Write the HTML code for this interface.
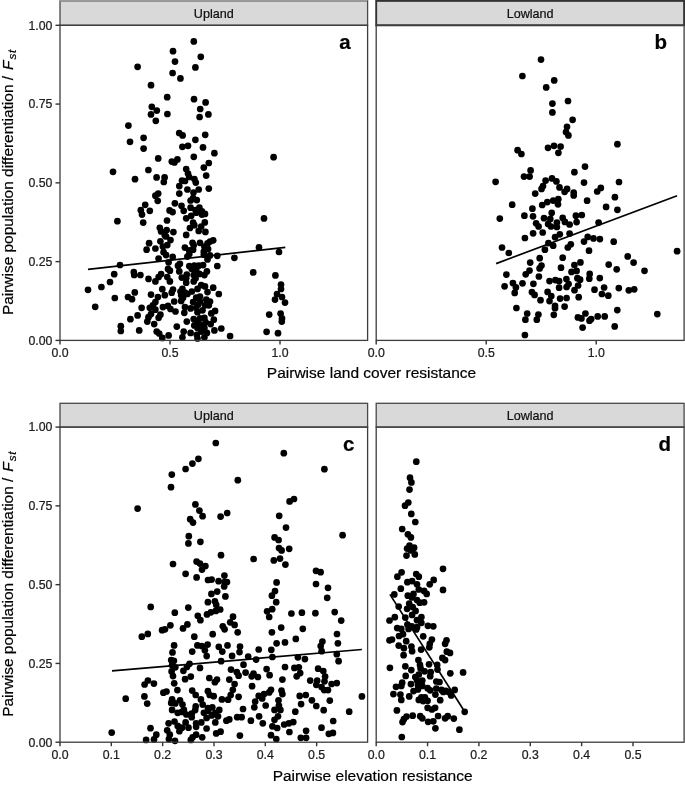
<!DOCTYPE html>
<html><head><meta charset="utf-8"><title>Figure</title>
<style>html,body{margin:0;padding:0;background:#fff;}svg{display:block;will-change:transform;}text{font-family:"Liberation Sans",sans-serif;stroke:#000;stroke-width:0.2px;}</style>
</head><body>
<svg width="685" height="785" viewBox="0 0 685 785">
<rect x="0" y="0" width="685" height="785" fill="#ffffff"/>
<rect x="60.0" y="0.9" width="307.6" height="24.4" fill="#d9d9d9" stroke="#484848" stroke-width="1.3"/>
<text x="213.8" y="18.0" font-size="12.6" text-anchor="middle" fill="#111111">Upland</text>
<rect x="376.2" y="0.9" width="307.9" height="24.4" fill="#d9d9d9" stroke="#333333" stroke-width="1.9"/>
<text x="530.1" y="18.0" font-size="12.6" text-anchor="middle" fill="#111111">Lowland</text>
<line x1="59.3" y1="0.9" x2="367.0" y2="0.9" stroke="#9a9a9a" stroke-width="1.8"/>
<g fill="#000000"><circle cx="193.8" cy="41.4" r="3.35"/><circle cx="173.0" cy="51.2" r="3.35"/><circle cx="200.8" cy="56.8" r="3.35"/><circle cx="175.0" cy="61.6" r="3.35"/><circle cx="137.6" cy="66.8" r="3.35"/><circle cx="195.4" cy="67.4" r="3.35"/><circle cx="172.6" cy="73.0" r="3.35"/><circle cx="180.4" cy="78.4" r="3.35"/><circle cx="151.0" cy="85.2" r="3.35"/><circle cx="167.2" cy="97.2" r="3.35"/><circle cx="194.0" cy="99.2" r="3.35"/><circle cx="205.6" cy="102.4" r="3.35"/><circle cx="151.8" cy="106.8" r="3.35"/><circle cx="156.8" cy="110.6" r="3.35"/><circle cx="200.2" cy="109.0" r="3.35"/><circle cx="151.0" cy="114.4" r="3.35"/><circle cx="167.4" cy="114.0" r="3.35"/><circle cx="208.4" cy="114.4" r="3.35"/><circle cx="199.6" cy="117.0" r="3.35"/><circle cx="155.8" cy="120.8" r="3.35"/><circle cx="128.4" cy="125.6" r="3.35"/><circle cx="179.2" cy="133.0" r="3.35"/><circle cx="182.6" cy="135.4" r="3.35"/><circle cx="205.2" cy="134.8" r="3.35"/><circle cx="143.6" cy="137.8" r="3.35"/><circle cx="195.4" cy="139.8" r="3.35"/><circle cx="130.0" cy="141.8" r="3.35"/><circle cx="143.6" cy="148.6" r="3.35"/><circle cx="182.4" cy="146.8" r="3.35"/><circle cx="188.0" cy="145.8" r="3.35"/><circle cx="203.0" cy="147.4" r="3.35"/><circle cx="158.2" cy="158.4" r="3.35"/><circle cx="193.8" cy="156.8" r="3.35"/><circle cx="177.4" cy="159.4" r="3.35"/><circle cx="171.8" cy="161.6" r="3.35"/><circle cx="174.4" cy="162.4" r="3.35"/><circle cx="208.8" cy="163.0" r="3.35"/><circle cx="113.0" cy="171.8" r="3.35"/><circle cx="148.4" cy="170.0" r="3.35"/><circle cx="203.8" cy="167.6" r="3.35"/><circle cx="186.2" cy="169.0" r="3.35"/><circle cx="188.0" cy="173.6" r="3.35"/><circle cx="206.2" cy="175.6" r="3.35"/><circle cx="135.0" cy="179.2" r="3.35"/><circle cx="156.6" cy="177.4" r="3.35"/><circle cx="164.6" cy="177.4" r="3.35"/><circle cx="194.4" cy="179.0" r="3.35"/><circle cx="189.2" cy="177.0" r="3.35"/><circle cx="182.0" cy="180.6" r="3.35"/><circle cx="185.0" cy="181.0" r="3.35"/><circle cx="163.8" cy="182.0" r="3.35"/><circle cx="195.8" cy="182.6" r="3.35"/><circle cx="214.4" cy="153.2" r="3.35"/><circle cx="273.6" cy="157.2" r="3.35"/><circle cx="117.4" cy="221.2" r="3.35"/><circle cx="145.2" cy="204.8" r="3.35"/><circle cx="140.8" cy="210.2" r="3.35"/><circle cx="142.0" cy="214.6" r="3.35"/><circle cx="143.2" cy="222.6" r="3.35"/><circle cx="120.0" cy="265.0" r="3.35"/><circle cx="114.2" cy="274.2" r="3.35"/><circle cx="110.0" cy="282.0" r="3.35"/><circle cx="101.4" cy="287.0" r="3.35"/><circle cx="88.0" cy="289.8" r="3.35"/><circle cx="95.2" cy="306.8" r="3.35"/><circle cx="114.8" cy="298.0" r="3.35"/><circle cx="133.8" cy="272.0" r="3.35"/><circle cx="134.2" cy="275.0" r="3.35"/><circle cx="140.4" cy="275.0" r="3.35"/><circle cx="134.8" cy="292.4" r="3.35"/><circle cx="128.0" cy="297.0" r="3.35"/><circle cx="132.0" cy="299.2" r="3.35"/><circle cx="141.6" cy="307.8" r="3.35"/><circle cx="137.6" cy="315.4" r="3.35"/><circle cx="130.4" cy="319.2" r="3.35"/><circle cx="120.8" cy="326.2" r="3.35"/><circle cx="120.8" cy="331.0" r="3.35"/><circle cx="139.2" cy="330.4" r="3.35"/><circle cx="158.2" cy="193.6" r="3.35"/><circle cx="155.4" cy="195.7" r="3.35"/><circle cx="157.7" cy="200.8" r="3.35"/><circle cx="149.8" cy="210.8" r="3.35"/><circle cx="174.9" cy="203.3" r="3.35"/><circle cx="169.6" cy="210.4" r="3.35"/><circle cx="172.6" cy="212.1" r="3.35"/><circle cx="167.0" cy="220.5" r="3.35"/><circle cx="159.8" cy="227.8" r="3.35"/><circle cx="161.1" cy="231.5" r="3.35"/><circle cx="166.7" cy="230.0" r="3.35"/><circle cx="173.4" cy="232.1" r="3.35"/><circle cx="164.8" cy="235.3" r="3.35"/><circle cx="166.1" cy="236.5" r="3.35"/><circle cx="170.5" cy="240.1" r="3.35"/><circle cx="160.4" cy="241.3" r="3.35"/><circle cx="167.3" cy="245.1" r="3.35"/><circle cx="149.1" cy="243.2" r="3.35"/><circle cx="162.9" cy="246.6" r="3.35"/><circle cx="155.4" cy="248.5" r="3.35"/><circle cx="146.6" cy="249.7" r="3.35"/><circle cx="163.6" cy="252.2" r="3.35"/><circle cx="166.1" cy="255.1" r="3.35"/><circle cx="172.7" cy="256.9" r="3.35"/><circle cx="179.3" cy="186.1" r="3.35"/><circle cx="187.4" cy="189.5" r="3.35"/><circle cx="198.7" cy="189.5" r="3.35"/><circle cx="179.3" cy="193.6" r="3.35"/><circle cx="193.5" cy="192.6" r="3.35"/><circle cx="208.8" cy="188.6" r="3.35"/><circle cx="193.1" cy="198.2" r="3.35"/><circle cx="190.6" cy="200.5" r="3.35"/><circle cx="196.8" cy="200.1" r="3.35"/><circle cx="181.5" cy="205.8" r="3.35"/><circle cx="190.6" cy="207.7" r="3.35"/><circle cx="183.7" cy="210.8" r="3.35"/><circle cx="199.4" cy="207.7" r="3.35"/><circle cx="195.6" cy="210.2" r="3.35"/><circle cx="196.2" cy="212.7" r="3.35"/><circle cx="201.9" cy="211.4" r="3.35"/><circle cx="205.0" cy="213.9" r="3.35"/><circle cx="201.9" cy="214.6" r="3.35"/><circle cx="191.2" cy="215.8" r="3.35"/><circle cx="186.2" cy="218.3" r="3.35"/><circle cx="204.8" cy="222.4" r="3.35"/><circle cx="193.1" cy="222.7" r="3.35"/><circle cx="194.3" cy="225.2" r="3.35"/><circle cx="201.2" cy="226.5" r="3.35"/><circle cx="189.9" cy="228.0" r="3.35"/><circle cx="198.7" cy="230.9" r="3.35"/><circle cx="205.4" cy="231.9" r="3.35"/><circle cx="186.2" cy="234.9" r="3.35"/><circle cx="213.2" cy="240.3" r="3.35"/><circle cx="210.0" cy="241.6" r="3.35"/><circle cx="207.5" cy="243.4" r="3.35"/><circle cx="192.5" cy="242.8" r="3.35"/><circle cx="200.0" cy="242.8" r="3.35"/><circle cx="193.7" cy="245.3" r="3.35"/><circle cx="184.9" cy="247.6" r="3.35"/><circle cx="189.3" cy="250.4" r="3.35"/><circle cx="193.1" cy="249.7" r="3.35"/><circle cx="204.4" cy="246.6" r="3.35"/><circle cx="208.1" cy="249.1" r="3.35"/><circle cx="203.8" cy="251.6" r="3.35"/><circle cx="203.8" cy="254.7" r="3.35"/><circle cx="189.3" cy="254.1" r="3.35"/><circle cx="187.4" cy="256.6" r="3.35"/><circle cx="210.0" cy="255.4" r="3.35"/><circle cx="217.3" cy="255.8" r="3.35"/><circle cx="158.6" cy="258.6" r="3.35"/><circle cx="168.6" cy="262.3" r="3.35"/><circle cx="207.5" cy="259.4" r="3.35"/><circle cx="179.9" cy="263.8" r="3.35"/><circle cx="178.0" cy="265.7" r="3.35"/><circle cx="217.3" cy="266.0" r="3.35"/><circle cx="189.3" cy="266.1" r="3.35"/><circle cx="194.3" cy="265.7" r="3.35"/><circle cx="198.7" cy="265.7" r="3.35"/><circle cx="203.1" cy="265.1" r="3.35"/><circle cx="168.0" cy="268.9" r="3.35"/><circle cx="169.9" cy="270.7" r="3.35"/><circle cx="179.3" cy="271.4" r="3.35"/><circle cx="191.8" cy="268.9" r="3.35"/><circle cx="196.2" cy="270.1" r="3.35"/><circle cx="206.9" cy="271.4" r="3.35"/><circle cx="161.1" cy="274.1" r="3.35"/><circle cx="186.8" cy="274.5" r="3.35"/><circle cx="193.7" cy="275.1" r="3.35"/><circle cx="199.4" cy="273.9" r="3.35"/><circle cx="204.4" cy="275.1" r="3.35"/><circle cx="158.6" cy="277.0" r="3.35"/><circle cx="148.5" cy="278.9" r="3.35"/><circle cx="167.3" cy="277.0" r="3.35"/><circle cx="181.8" cy="277.6" r="3.35"/><circle cx="186.2" cy="278.3" r="3.35"/><circle cx="195.6" cy="278.3" r="3.35"/><circle cx="155.4" cy="281.4" r="3.35"/><circle cx="169.9" cy="281.4" r="3.35"/><circle cx="193.7" cy="281.4" r="3.35"/><circle cx="186.2" cy="282.7" r="3.35"/><circle cx="201.2" cy="285.2" r="3.35"/><circle cx="205.0" cy="286.4" r="3.35"/><circle cx="213.2" cy="287.7" r="3.35"/><circle cx="162.3" cy="289.2" r="3.35"/><circle cx="173.0" cy="289.6" r="3.35"/><circle cx="182.4" cy="288.9" r="3.35"/><circle cx="197.5" cy="288.9" r="3.35"/><circle cx="171.7" cy="292.7" r="3.35"/><circle cx="180.5" cy="291.5" r="3.35"/><circle cx="184.9" cy="292.7" r="3.35"/><circle cx="191.8" cy="291.5" r="3.35"/><circle cx="207.5" cy="292.1" r="3.35"/><circle cx="218.8" cy="294.0" r="3.35"/><circle cx="151.0" cy="294.6" r="3.35"/><circle cx="164.8" cy="295.2" r="3.35"/><circle cx="157.9" cy="297.1" r="3.35"/><circle cx="181.2" cy="295.2" r="3.35"/><circle cx="187.4" cy="294.0" r="3.35"/><circle cx="200.0" cy="296.5" r="3.35"/><circle cx="183.0" cy="297.7" r="3.35"/><circle cx="196.2" cy="297.7" r="3.35"/><circle cx="206.3" cy="299.6" r="3.35"/><circle cx="174.2" cy="301.5" r="3.35"/><circle cx="155.4" cy="302.1" r="3.35"/><circle cx="181.2" cy="300.9" r="3.35"/><circle cx="193.1" cy="302.1" r="3.35"/><circle cx="200.0" cy="301.5" r="3.35"/><circle cx="210.0" cy="301.5" r="3.35"/><circle cx="152.9" cy="305.3" r="3.35"/><circle cx="198.1" cy="304.6" r="3.35"/><circle cx="205.0" cy="305.3" r="3.35"/><circle cx="162.9" cy="307.1" r="3.35"/><circle cx="168.0" cy="305.9" r="3.35"/><circle cx="149.8" cy="307.8" r="3.35"/><circle cx="184.9" cy="307.1" r="3.35"/><circle cx="190.6" cy="308.4" r="3.35"/><circle cx="196.2" cy="307.8" r="3.35"/><circle cx="208.8" cy="305.3" r="3.35"/><circle cx="170.5" cy="309.0" r="3.35"/><circle cx="155.4" cy="309.7" r="3.35"/><circle cx="175.5" cy="311.5" r="3.35"/><circle cx="202.5" cy="310.3" r="3.35"/><circle cx="215.1" cy="310.9" r="3.35"/><circle cx="184.3" cy="312.8" r="3.35"/><circle cx="197.5" cy="312.2" r="3.35"/><circle cx="211.3" cy="313.4" r="3.35"/><circle cx="151.0" cy="314.1" r="3.35"/><circle cx="160.4" cy="314.7" r="3.35"/><circle cx="158.6" cy="317.8" r="3.35"/><circle cx="148.5" cy="317.2" r="3.35"/><circle cx="193.7" cy="319.1" r="3.35"/><circle cx="200.0" cy="318.4" r="3.35"/><circle cx="204.4" cy="317.8" r="3.35"/><circle cx="213.8" cy="319.7" r="3.35"/><circle cx="147.3" cy="321.6" r="3.35"/><circle cx="186.8" cy="321.6" r="3.35"/><circle cx="198.1" cy="322.2" r="3.35"/><circle cx="205.6" cy="322.2" r="3.35"/><circle cx="154.2" cy="324.1" r="3.35"/><circle cx="194.3" cy="325.4" r="3.35"/><circle cx="201.2" cy="325.4" r="3.35"/><circle cx="210.7" cy="324.1" r="3.35"/><circle cx="176.8" cy="326.6" r="3.35"/><circle cx="197.5" cy="327.9" r="3.35"/><circle cx="204.4" cy="327.9" r="3.35"/><circle cx="214.4" cy="330.4" r="3.35"/><circle cx="221.3" cy="328.5" r="3.35"/><circle cx="156.7" cy="331.6" r="3.35"/><circle cx="183.7" cy="331.6" r="3.35"/><circle cx="190.6" cy="332.9" r="3.35"/><circle cx="201.2" cy="331.6" r="3.35"/><circle cx="206.9" cy="332.9" r="3.35"/><circle cx="159.2" cy="333.5" r="3.35"/><circle cx="196.8" cy="334.8" r="3.35"/><circle cx="168.6" cy="335.4" r="3.35"/><circle cx="230.1" cy="336.0" r="3.35"/><circle cx="182.4" cy="337.3" r="3.35"/><circle cx="204.4" cy="337.3" r="3.35"/><circle cx="162.3" cy="337.9" r="3.35"/><circle cx="197.5" cy="338.5" r="3.35"/><circle cx="264.0" cy="218.4" r="3.35"/><circle cx="259.0" cy="247.4" r="3.35"/><circle cx="234.4" cy="257.8" r="3.35"/><circle cx="279.0" cy="252.0" r="3.35"/><circle cx="253.2" cy="272.4" r="3.35"/><circle cx="275.4" cy="275.4" r="3.35"/><circle cx="281.0" cy="284.6" r="3.35"/><circle cx="281.0" cy="289.0" r="3.35"/><circle cx="277.0" cy="294.0" r="3.35"/><circle cx="282.0" cy="297.0" r="3.35"/><circle cx="275.0" cy="299.6" r="3.35"/><circle cx="285.0" cy="302.6" r="3.35"/><circle cx="269.2" cy="314.6" r="3.35"/><circle cx="280.6" cy="313.6" r="3.35"/><circle cx="282.0" cy="318.4" r="3.35"/><circle cx="281.8" cy="321.6" r="3.35"/><circle cx="266.6" cy="331.8" r="3.35"/><circle cx="278.0" cy="333.2" r="3.35"/></g>
<g fill="#000000"><circle cx="541.0" cy="59.6" r="3.35"/><circle cx="522.4" cy="76.0" r="3.35"/><circle cx="554.2" cy="80.4" r="3.35"/><circle cx="546.2" cy="87.4" r="3.35"/><circle cx="568.0" cy="101.0" r="3.35"/><circle cx="552.4" cy="103.6" r="3.35"/><circle cx="552.4" cy="112.4" r="3.35"/><circle cx="572.6" cy="119.8" r="3.35"/><circle cx="567.0" cy="126.8" r="3.35"/><circle cx="566.0" cy="132.0" r="3.35"/><circle cx="568.4" cy="135.4" r="3.35"/><circle cx="554.0" cy="145.8" r="3.35"/><circle cx="560.6" cy="146.6" r="3.35"/><circle cx="548.0" cy="147.8" r="3.35"/><circle cx="558.4" cy="152.8" r="3.35"/><circle cx="517.6" cy="150.2" r="3.35"/><circle cx="521.4" cy="154.0" r="3.35"/><circle cx="585.0" cy="166.6" r="3.35"/><circle cx="530.6" cy="170.4" r="3.35"/><circle cx="574.4" cy="172.2" r="3.35"/><circle cx="524.0" cy="176.6" r="3.35"/><circle cx="529.6" cy="176.6" r="3.35"/><circle cx="495.6" cy="181.8" r="3.35"/><circle cx="545.6" cy="180.6" r="3.35"/><circle cx="552.0" cy="178.4" r="3.35"/><circle cx="556.4" cy="181.4" r="3.35"/><circle cx="584.0" cy="182.6" r="3.35"/><circle cx="617.4" cy="144.2" r="3.35"/><circle cx="619.0" cy="182.0" r="3.35"/><circle cx="543.0" cy="186.0" r="3.35"/><circle cx="541.5" cy="188.9" r="3.35"/><circle cx="559.5" cy="187.4" r="3.35"/><circle cx="567.1" cy="188.9" r="3.35"/><circle cx="564.6" cy="191.8" r="3.35"/><circle cx="573.7" cy="192.6" r="3.35"/><circle cx="573.7" cy="195.5" r="3.35"/><circle cx="535.2" cy="193.6" r="3.35"/><circle cx="558.3" cy="199.2" r="3.35"/><circle cx="553.2" cy="200.6" r="3.35"/><circle cx="547.3" cy="202.1" r="3.35"/><circle cx="542.2" cy="205.0" r="3.35"/><circle cx="558.0" cy="204.3" r="3.35"/><circle cx="512.2" cy="204.7" r="3.35"/><circle cx="532.4" cy="208.7" r="3.35"/><circle cx="551.7" cy="212.8" r="3.35"/><circle cx="524.4" cy="215.7" r="3.35"/><circle cx="533.0" cy="216.3" r="3.35"/><circle cx="544.0" cy="218.2" r="3.35"/><circle cx="550.3" cy="218.9" r="3.35"/><circle cx="562.7" cy="217.9" r="3.35"/><circle cx="575.9" cy="215.7" r="3.35"/><circle cx="499.8" cy="218.6" r="3.35"/><circle cx="556.9" cy="222.6" r="3.35"/><circle cx="564.9" cy="221.9" r="3.35"/><circle cx="569.6" cy="224.5" r="3.35"/><circle cx="576.6" cy="222.1" r="3.35"/><circle cx="536.1" cy="223.3" r="3.35"/><circle cx="538.6" cy="226.5" r="3.35"/><circle cx="548.1" cy="224.0" r="3.35"/><circle cx="551.0" cy="226.5" r="3.35"/><circle cx="556.9" cy="227.0" r="3.35"/><circle cx="533.1" cy="233.3" r="3.35"/><circle cx="542.7" cy="232.5" r="3.35"/><circle cx="559.8" cy="234.3" r="3.35"/><circle cx="569.6" cy="233.6" r="3.35"/><circle cx="555.1" cy="237.2" r="3.35"/><circle cx="524.9" cy="238.0" r="3.35"/><circle cx="548.4" cy="243.1" r="3.35"/><circle cx="553.2" cy="245.7" r="3.35"/><circle cx="570.8" cy="244.3" r="3.35"/><circle cx="567.8" cy="247.5" r="3.35"/><circle cx="502.0" cy="247.5" r="3.35"/><circle cx="544.9" cy="249.7" r="3.35"/><circle cx="508.8" cy="253.0" r="3.35"/><circle cx="562.7" cy="257.7" r="3.35"/><circle cx="539.7" cy="258.2" r="3.35"/><circle cx="530.2" cy="262.6" r="3.35"/><circle cx="541.5" cy="265.5" r="3.35"/><circle cx="539.6" cy="268.4" r="3.35"/><circle cx="574.4" cy="265.0" r="3.35"/><circle cx="561.0" cy="267.7" r="3.35"/><circle cx="529.5" cy="270.6" r="3.35"/><circle cx="525.7" cy="274.3" r="3.35"/><circle cx="571.5" cy="271.9" r="3.35"/><circle cx="576.6" cy="270.9" r="3.35"/><circle cx="506.4" cy="274.6" r="3.35"/><circle cx="538.9" cy="276.5" r="3.35"/><circle cx="549.5" cy="281.1" r="3.35"/><circle cx="555.4" cy="280.1" r="3.35"/><circle cx="559.1" cy="281.1" r="3.35"/><circle cx="566.4" cy="279.0" r="3.35"/><circle cx="512.9" cy="283.1" r="3.35"/><circle cx="522.5" cy="283.3" r="3.35"/><circle cx="533.4" cy="283.8" r="3.35"/><circle cx="568.6" cy="284.1" r="3.35"/><circle cx="504.6" cy="286.3" r="3.35"/><circle cx="515.9" cy="287.4" r="3.35"/><circle cx="559.1" cy="287.7" r="3.35"/><circle cx="577.4" cy="278.2" r="3.35"/><circle cx="578.1" cy="285.5" r="3.35"/><circle cx="600.8" cy="187.9" r="3.35"/><circle cx="597.2" cy="191.5" r="3.35"/><circle cx="614.9" cy="197.2" r="3.35"/><circle cx="587.1" cy="200.7" r="3.35"/><circle cx="606.1" cy="206.9" r="3.35"/><circle cx="617.4" cy="209.8" r="3.35"/><circle cx="581.8" cy="215.0" r="3.35"/><circle cx="598.6" cy="222.6" r="3.35"/><circle cx="587.7" cy="236.9" r="3.35"/><circle cx="593.5" cy="238.4" r="3.35"/><circle cx="599.9" cy="239.1" r="3.35"/><circle cx="584.0" cy="241.6" r="3.35"/><circle cx="613.7" cy="241.7" r="3.35"/><circle cx="589.0" cy="250.7" r="3.35"/><circle cx="677.1" cy="251.2" r="3.35"/><circle cx="627.7" cy="256.4" r="3.35"/><circle cx="580.4" cy="262.4" r="3.35"/><circle cx="633.6" cy="262.6" r="3.35"/><circle cx="608.7" cy="264.6" r="3.35"/><circle cx="616.7" cy="269.3" r="3.35"/><circle cx="644.5" cy="270.8" r="3.35"/><circle cx="589.7" cy="273.9" r="3.35"/><circle cx="580.1" cy="279.7" r="3.35"/><circle cx="589.3" cy="278.7" r="3.35"/><circle cx="599.8" cy="278.1" r="3.35"/><circle cx="574.5" cy="290.2" r="3.35"/><circle cx="604.1" cy="287.5" r="3.35"/><circle cx="594.5" cy="289.7" r="3.35"/><circle cx="618.8" cy="288.1" r="3.35"/><circle cx="628.8" cy="290.3" r="3.35"/><circle cx="634.2" cy="289.3" r="3.35"/><circle cx="601.9" cy="294.0" r="3.35"/><circle cx="608.3" cy="295.7" r="3.35"/><circle cx="578.7" cy="297.2" r="3.35"/><circle cx="566.6" cy="287.0" r="3.35"/><circle cx="514.7" cy="292.9" r="3.35"/><circle cx="531.9" cy="292.1" r="3.35"/><circle cx="534.6" cy="294.9" r="3.35"/><circle cx="547.6" cy="291.9" r="3.35"/><circle cx="551.3" cy="296.0" r="3.35"/><circle cx="566.6" cy="298.0" r="3.35"/><circle cx="560.1" cy="298.6" r="3.35"/><circle cx="540.5" cy="300.2" r="3.35"/><circle cx="549.5" cy="301.1" r="3.35"/><circle cx="564.6" cy="306.6" r="3.35"/><circle cx="555.0" cy="305.8" r="3.35"/><circle cx="555.0" cy="308.2" r="3.35"/><circle cx="516.4" cy="308.0" r="3.35"/><circle cx="617.3" cy="310.1" r="3.35"/><circle cx="527.2" cy="313.5" r="3.35"/><circle cx="538.4" cy="314.6" r="3.35"/><circle cx="553.8" cy="314.8" r="3.35"/><circle cx="585.4" cy="313.5" r="3.35"/><circle cx="577.9" cy="317.4" r="3.35"/><circle cx="581.4" cy="318.4" r="3.35"/><circle cx="597.7" cy="316.4" r="3.35"/><circle cx="604.7" cy="316.4" r="3.35"/><circle cx="591.2" cy="319.0" r="3.35"/><circle cx="589.5" cy="320.7" r="3.35"/><circle cx="525.4" cy="319.7" r="3.35"/><circle cx="536.8" cy="319.7" r="3.35"/><circle cx="582.6" cy="327.6" r="3.35"/><circle cx="614.7" cy="326.4" r="3.35"/><circle cx="524.9" cy="335.0" r="3.35"/><circle cx="657.3" cy="314.1" r="3.35"/></g>
<line x1="88" y1="269.4" x2="285.3" y2="247.4" stroke="#000" stroke-width="1.7"/>
<line x1="496.1" y1="263.6" x2="677.1" y2="195.7" stroke="#000" stroke-width="1.7"/>
<rect x="60.0" y="25.3" width="307.6" height="315.1" fill="none" stroke="#3d3d3d" stroke-width="1.3"/>
<rect x="376.2" y="25.3" width="307.9" height="315.1" fill="none" stroke="#3d3d3d" stroke-width="1.3"/>
<line x1="55.5" y1="340.40" x2="60.0" y2="340.40" stroke="#333" stroke-width="1.4"/>
<text x="52.4" y="344.75" font-size="12.3" text-anchor="end" fill="#262626">0.00</text>
<line x1="55.5" y1="261.62" x2="60.0" y2="261.62" stroke="#333" stroke-width="1.4"/>
<text x="52.4" y="265.98" font-size="12.3" text-anchor="end" fill="#262626">0.25</text>
<line x1="55.5" y1="182.85" x2="60.0" y2="182.85" stroke="#333" stroke-width="1.4"/>
<text x="52.4" y="187.20" font-size="12.3" text-anchor="end" fill="#262626">0.50</text>
<line x1="55.5" y1="104.07" x2="60.0" y2="104.07" stroke="#333" stroke-width="1.4"/>
<text x="52.4" y="108.42" font-size="12.3" text-anchor="end" fill="#262626">0.75</text>
<line x1="55.5" y1="25.30" x2="60.0" y2="25.30" stroke="#333" stroke-width="1.4"/>
<text x="52.4" y="29.65" font-size="12.3" text-anchor="end" fill="#262626">1.00</text>
<line x1="60.00" y1="340.4" x2="60.00" y2="344.40" stroke="#333" stroke-width="1.4"/>
<text x="60.00" y="356.80" font-size="12.3" text-anchor="middle" fill="#262626">0.0</text>
<line x1="170.00" y1="340.4" x2="170.00" y2="344.40" stroke="#333" stroke-width="1.4"/>
<text x="170.00" y="356.80" font-size="12.3" text-anchor="middle" fill="#262626">0.5</text>
<line x1="280.00" y1="340.4" x2="280.00" y2="344.40" stroke="#333" stroke-width="1.4"/>
<text x="280.00" y="356.80" font-size="12.3" text-anchor="middle" fill="#262626">1.0</text>
<line x1="376.20" y1="340.4" x2="376.20" y2="344.40" stroke="#333" stroke-width="1.4"/>
<text x="376.20" y="356.80" font-size="12.3" text-anchor="middle" fill="#262626">0.0</text>
<line x1="486.20" y1="340.4" x2="486.20" y2="344.40" stroke="#333" stroke-width="1.4"/>
<text x="486.20" y="356.80" font-size="12.3" text-anchor="middle" fill="#262626">0.5</text>
<line x1="596.20" y1="340.4" x2="596.20" y2="344.40" stroke="#333" stroke-width="1.4"/>
<text x="596.20" y="356.80" font-size="12.3" text-anchor="middle" fill="#262626">1.0</text>
<text x="371.5" y="377.8" font-size="15.5" text-anchor="middle" fill="#000">Pairwise land cover resistance</text>
<text x="344.9" y="48.8" font-size="20.5" font-weight="bold" text-anchor="middle" fill="#000">a</text>
<text x="660.8" y="48.8" font-size="20.5" font-weight="bold" text-anchor="middle" fill="#000">b</text>
<rect x="60.0" y="403.3" width="307.6" height="23.8" fill="#d9d9d9" stroke="#484848" stroke-width="1.3"/>
<text x="213.8" y="420.4" font-size="12.6" text-anchor="middle" fill="#111111">Upland</text>
<rect x="376.2" y="403.3" width="307.9" height="23.8" fill="#d9d9d9" stroke="#484848" stroke-width="1.3"/>
<text x="530.1" y="420.4" font-size="12.6" text-anchor="middle" fill="#111111">Lowland</text>
<g fill="#000000"><circle cx="215.8" cy="443.0" r="3.35"/><circle cx="198.4" cy="458.8" r="3.35"/><circle cx="192.4" cy="463.6" r="3.35"/><circle cx="185.6" cy="469.0" r="3.35"/><circle cx="171.8" cy="474.6" r="3.35"/><circle cx="171.0" cy="487.2" r="3.35"/><circle cx="195.4" cy="504.4" r="3.35"/><circle cx="137.6" cy="508.6" r="3.35"/><circle cx="199.4" cy="510.6" r="3.35"/><circle cx="227.2" cy="513.0" r="3.35"/><circle cx="202.6" cy="516.2" r="3.35"/><circle cx="220.6" cy="516.6" r="3.35"/><circle cx="190.2" cy="519.2" r="3.35"/><circle cx="193.0" cy="522.6" r="3.35"/><circle cx="188.8" cy="536.2" r="3.35"/><circle cx="200.4" cy="541.8" r="3.35"/><circle cx="188.4" cy="543.4" r="3.35"/><circle cx="221.0" cy="555.2" r="3.35"/><circle cx="173.0" cy="564.0" r="3.35"/><circle cx="196.6" cy="561.6" r="3.35"/><circle cx="200.0" cy="563.6" r="3.35"/><circle cx="205.4" cy="566.0" r="3.35"/><circle cx="202.0" cy="569.6" r="3.35"/><circle cx="185.6" cy="573.8" r="3.35"/><circle cx="224.4" cy="575.6" r="3.35"/><circle cx="196.6" cy="577.4" r="3.35"/><circle cx="208.0" cy="580.0" r="3.35"/><circle cx="211.6" cy="579.6" r="3.35"/><circle cx="218.6" cy="581.2" r="3.35"/><circle cx="224.6" cy="582.0" r="3.35"/><circle cx="227.0" cy="582.0" r="3.35"/><circle cx="283.8" cy="453.2" r="3.35"/><circle cx="324.4" cy="469.2" r="3.35"/><circle cx="237.8" cy="480.2" r="3.35"/><circle cx="294.0" cy="499.0" r="3.35"/><circle cx="289.6" cy="501.4" r="3.35"/><circle cx="279.2" cy="515.8" r="3.35"/><circle cx="286.0" cy="527.6" r="3.35"/><circle cx="342.6" cy="535.2" r="3.35"/><circle cx="274.6" cy="537.4" r="3.35"/><circle cx="278.6" cy="540.0" r="3.35"/><circle cx="279.0" cy="548.0" r="3.35"/><circle cx="281.6" cy="550.4" r="3.35"/><circle cx="289.2" cy="548.8" r="3.35"/><circle cx="253.6" cy="559.0" r="3.35"/><circle cx="273.8" cy="560.4" r="3.35"/><circle cx="280.0" cy="558.6" r="3.35"/><circle cx="285.4" cy="564.6" r="3.35"/><circle cx="316.0" cy="570.8" r="3.35"/><circle cx="320.6" cy="572.2" r="3.35"/><circle cx="276.6" cy="582.4" r="3.35"/><circle cx="316.0" cy="584.0" r="3.35"/><circle cx="150.7" cy="606.9" r="3.35"/><circle cx="174.8" cy="612.7" r="3.35"/><circle cx="170.4" cy="625.3" r="3.35"/><circle cx="162.1" cy="630.2" r="3.35"/><circle cx="147.8" cy="633.9" r="3.35"/><circle cx="141.8" cy="636.7" r="3.35"/><circle cx="174.1" cy="645.4" r="3.35"/><circle cx="172.5" cy="652.4" r="3.35"/><circle cx="171.2" cy="660.0" r="3.35"/><circle cx="173.9" cy="660.8" r="3.35"/><circle cx="172.1" cy="665.2" r="3.35"/><circle cx="175.3" cy="667.3" r="3.35"/><circle cx="171.6" cy="671.4" r="3.35"/><circle cx="173.0" cy="676.1" r="3.35"/><circle cx="147.9" cy="680.5" r="3.35"/><circle cx="144.6" cy="684.5" r="3.35"/><circle cx="153.9" cy="683.6" r="3.35"/><circle cx="174.2" cy="683.3" r="3.35"/><circle cx="177.4" cy="690.1" r="3.35"/><circle cx="166.5" cy="691.5" r="3.35"/><circle cx="163.4" cy="692.7" r="3.35"/><circle cx="125.7" cy="698.7" r="3.35"/><circle cx="144.4" cy="696.4" r="3.35"/><circle cx="147.2" cy="703.6" r="3.35"/><circle cx="172.1" cy="699.4" r="3.35"/><circle cx="171.2" cy="702.9" r="3.35"/><circle cx="175.3" cy="703.4" r="3.35"/><circle cx="172.1" cy="709.9" r="3.35"/><circle cx="180.0" cy="700.3" r="3.35"/><circle cx="224.2" cy="586.4" r="3.35"/><circle cx="217.2" cy="591.6" r="3.35"/><circle cx="211.4" cy="593.9" r="3.35"/><circle cx="225.4" cy="596.4" r="3.35"/><circle cx="275.0" cy="591.1" r="3.35"/><circle cx="271.9" cy="595.7" r="3.35"/><circle cx="207.9" cy="602.2" r="3.35"/><circle cx="214.9" cy="601.3" r="3.35"/><circle cx="216.2" cy="604.8" r="3.35"/><circle cx="276.2" cy="602.2" r="3.35"/><circle cx="188.3" cy="607.6" r="3.35"/><circle cx="220.2" cy="609.5" r="3.35"/><circle cx="215.8" cy="610.9" r="3.35"/><circle cx="210.9" cy="612.3" r="3.35"/><circle cx="207.0" cy="614.4" r="3.35"/><circle cx="272.2" cy="609.2" r="3.35"/><circle cx="267.1" cy="611.3" r="3.35"/><circle cx="197.8" cy="615.8" r="3.35"/><circle cx="200.4" cy="620.2" r="3.35"/><circle cx="233.0" cy="616.7" r="3.35"/><circle cx="269.2" cy="617.0" r="3.35"/><circle cx="230.2" cy="622.3" r="3.35"/><circle cx="234.6" cy="624.9" r="3.35"/><circle cx="222.8" cy="626.3" r="3.35"/><circle cx="224.6" cy="629.3" r="3.35"/><circle cx="187.4" cy="624.4" r="3.35"/><circle cx="183.0" cy="628.4" r="3.35"/><circle cx="165.0" cy="629.3" r="3.35"/><circle cx="281.2" cy="627.6" r="3.35"/><circle cx="237.7" cy="632.3" r="3.35"/><circle cx="271.9" cy="632.3" r="3.35"/><circle cx="212.7" cy="634.2" r="3.35"/><circle cx="194.3" cy="636.7" r="3.35"/><circle cx="197.4" cy="645.4" r="3.35"/><circle cx="201.8" cy="646.0" r="3.35"/><circle cx="207.6" cy="644.6" r="3.35"/><circle cx="227.5" cy="645.4" r="3.35"/><circle cx="218.8" cy="646.8" r="3.35"/><circle cx="240.0" cy="646.5" r="3.35"/><circle cx="276.6" cy="643.3" r="3.35"/><circle cx="285.0" cy="642.4" r="3.35"/><circle cx="204.9" cy="650.3" r="3.35"/><circle cx="192.2" cy="651.6" r="3.35"/><circle cx="222.3" cy="651.6" r="3.35"/><circle cx="239.5" cy="652.1" r="3.35"/><circle cx="258.7" cy="649.5" r="3.35"/><circle cx="271.3" cy="649.8" r="3.35"/><circle cx="206.7" cy="656.1" r="3.35"/><circle cx="232.1" cy="655.9" r="3.35"/><circle cx="248.2" cy="656.5" r="3.35"/><circle cx="272.4" cy="657.0" r="3.35"/><circle cx="221.1" cy="661.2" r="3.35"/><circle cx="256.1" cy="659.6" r="3.35"/><circle cx="189.5" cy="663.8" r="3.35"/><circle cx="186.9" cy="667.0" r="3.35"/><circle cx="183.4" cy="670.8" r="3.35"/><circle cx="243.5" cy="664.7" r="3.35"/><circle cx="200.0" cy="667.9" r="3.35"/><circle cx="231.0" cy="669.6" r="3.35"/><circle cx="266.6" cy="669.1" r="3.35"/><circle cx="285.0" cy="667.0" r="3.35"/><circle cx="190.8" cy="676.6" r="3.35"/><circle cx="185.1" cy="679.2" r="3.35"/><circle cx="236.8" cy="672.2" r="3.35"/><circle cx="238.6" cy="675.7" r="3.35"/><circle cx="245.6" cy="672.6" r="3.35"/><circle cx="253.5" cy="673.5" r="3.35"/><circle cx="251.7" cy="676.3" r="3.35"/><circle cx="257.9" cy="677.0" r="3.35"/><circle cx="269.6" cy="675.2" r="3.35"/><circle cx="209.3" cy="678.0" r="3.35"/><circle cx="217.0" cy="679.6" r="3.35"/><circle cx="214.9" cy="682.2" r="3.35"/><circle cx="229.3" cy="679.6" r="3.35"/><circle cx="234.6" cy="684.0" r="3.35"/><circle cx="282.4" cy="679.6" r="3.35"/><circle cx="252.1" cy="686.2" r="3.35"/><circle cx="192.2" cy="690.6" r="3.35"/><circle cx="207.9" cy="691.2" r="3.35"/><circle cx="232.8" cy="689.8" r="3.35"/><circle cx="271.0" cy="689.8" r="3.35"/><circle cx="281.5" cy="690.6" r="3.35"/><circle cx="195.7" cy="695.0" r="3.35"/><circle cx="209.7" cy="695.0" r="3.35"/><circle cx="213.7" cy="696.2" r="3.35"/><circle cx="230.7" cy="695.0" r="3.35"/><circle cx="238.6" cy="696.8" r="3.35"/><circle cx="258.7" cy="695.9" r="3.35"/><circle cx="264.0" cy="694.1" r="3.35"/><circle cx="269.2" cy="692.4" r="3.35"/><circle cx="182.5" cy="704.6" r="3.35"/><circle cx="200.9" cy="699.4" r="3.35"/><circle cx="202.7" cy="704.6" r="3.35"/><circle cx="221.9" cy="699.4" r="3.35"/><circle cx="228.1" cy="699.7" r="3.35"/><circle cx="255.2" cy="701.5" r="3.35"/><circle cx="262.2" cy="698.5" r="3.35"/><circle cx="278.5" cy="700.3" r="3.35"/><circle cx="195.7" cy="706.4" r="3.35"/><circle cx="207.9" cy="708.1" r="3.35"/><circle cx="212.3" cy="707.3" r="3.35"/><circle cx="219.3" cy="709.9" r="3.35"/><circle cx="243.0" cy="709.0" r="3.35"/><circle cx="254.3" cy="707.3" r="3.35"/><circle cx="265.7" cy="705.5" r="3.35"/><circle cx="278.9" cy="705.5" r="3.35"/><circle cx="274.5" cy="709.9" r="3.35"/><circle cx="183.9" cy="709.9" r="3.35"/><circle cx="282.4" cy="694.1" r="3.35"/><circle cx="328.0" cy="587.8" r="3.35"/><circle cx="327.2" cy="597.8" r="3.35"/><circle cx="291.4" cy="613.5" r="3.35"/><circle cx="301.9" cy="612.7" r="3.35"/><circle cx="315.4" cy="613.2" r="3.35"/><circle cx="334.7" cy="612.1" r="3.35"/><circle cx="341.2" cy="620.6" r="3.35"/><circle cx="302.8" cy="628.8" r="3.35"/><circle cx="337.0" cy="634.0" r="3.35"/><circle cx="295.8" cy="638.9" r="3.35"/><circle cx="322.4" cy="641.6" r="3.35"/><circle cx="320.7" cy="646.0" r="3.35"/><circle cx="337.9" cy="643.3" r="3.35"/><circle cx="321.6" cy="651.2" r="3.35"/><circle cx="336.8" cy="654.2" r="3.35"/><circle cx="297.9" cy="657.3" r="3.35"/><circle cx="304.9" cy="659.1" r="3.35"/><circle cx="338.6" cy="661.2" r="3.35"/><circle cx="294.4" cy="667.9" r="3.35"/><circle cx="298.8" cy="667.3" r="3.35"/><circle cx="318.1" cy="668.7" r="3.35"/><circle cx="323.3" cy="671.0" r="3.35"/><circle cx="300.2" cy="673.1" r="3.35"/><circle cx="296.7" cy="676.3" r="3.35"/><circle cx="325.1" cy="676.6" r="3.35"/><circle cx="310.2" cy="680.6" r="3.35"/><circle cx="317.2" cy="680.6" r="3.35"/><circle cx="324.5" cy="681.3" r="3.35"/><circle cx="316.3" cy="684.8" r="3.35"/><circle cx="331.6" cy="684.0" r="3.35"/><circle cx="336.8" cy="683.1" r="3.35"/><circle cx="321.6" cy="687.1" r="3.35"/><circle cx="324.2" cy="690.1" r="3.35"/><circle cx="328.0" cy="690.1" r="3.35"/><circle cx="361.9" cy="696.4" r="3.35"/><circle cx="299.7" cy="695.9" r="3.35"/><circle cx="305.8" cy="695.0" r="3.35"/><circle cx="311.9" cy="700.3" r="3.35"/><circle cx="329.8" cy="700.6" r="3.35"/><circle cx="301.1" cy="704.1" r="3.35"/><circle cx="316.3" cy="706.0" r="3.35"/><circle cx="280.4" cy="709.9" r="3.35"/><circle cx="323.7" cy="710.2" r="3.35"/><circle cx="295.3" cy="711.7" r="3.35"/><circle cx="349.2" cy="711.7" r="3.35"/><circle cx="195.2" cy="710.1" r="3.35"/><circle cx="182.0" cy="711.9" r="3.35"/><circle cx="177.7" cy="712.8" r="3.35"/><circle cx="186.4" cy="714.5" r="3.35"/><circle cx="191.7" cy="713.7" r="3.35"/><circle cx="191.7" cy="717.2" r="3.35"/><circle cx="208.3" cy="711.0" r="3.35"/><circle cx="203.9" cy="712.8" r="3.35"/><circle cx="215.3" cy="712.8" r="3.35"/><circle cx="218.0" cy="716.3" r="3.35"/><circle cx="211.8" cy="715.4" r="3.35"/><circle cx="206.6" cy="718.0" r="3.35"/><circle cx="237.2" cy="717.2" r="3.35"/><circle cx="241.6" cy="717.2" r="3.35"/><circle cx="229.3" cy="719.4" r="3.35"/><circle cx="226.4" cy="720.7" r="3.35"/><circle cx="215.3" cy="722.4" r="3.35"/><circle cx="250.9" cy="720.7" r="3.35"/><circle cx="259.1" cy="716.3" r="3.35"/><circle cx="174.5" cy="721.5" r="3.35"/><circle cx="168.6" cy="723.3" r="3.35"/><circle cx="185.6" cy="722.4" r="3.35"/><circle cx="177.7" cy="725.9" r="3.35"/><circle cx="196.1" cy="723.3" r="3.35"/><circle cx="201.3" cy="722.4" r="3.35"/><circle cx="196.1" cy="726.8" r="3.35"/><circle cx="182.0" cy="727.7" r="3.35"/><circle cx="188.5" cy="727.7" r="3.35"/><circle cx="206.6" cy="728.5" r="3.35"/><circle cx="179.4" cy="731.2" r="3.35"/><circle cx="167.2" cy="730.3" r="3.35"/><circle cx="150.5" cy="728.2" r="3.35"/><circle cx="220.6" cy="731.7" r="3.35"/><circle cx="216.2" cy="733.4" r="3.35"/><circle cx="169.8" cy="734.7" r="3.35"/><circle cx="156.3" cy="734.7" r="3.35"/><circle cx="239.9" cy="735.6" r="3.35"/><circle cx="196.1" cy="734.7" r="3.35"/><circle cx="192.6" cy="737.3" r="3.35"/><circle cx="202.2" cy="737.3" r="3.35"/><circle cx="168.9" cy="739.1" r="3.35"/><circle cx="154.0" cy="739.4" r="3.35"/><circle cx="146.1" cy="739.9" r="3.35"/><circle cx="175.0" cy="740.8" r="3.35"/><circle cx="190.8" cy="739.9" r="3.35"/><circle cx="278.0" cy="716.3" r="3.35"/><circle cx="274.5" cy="719.8" r="3.35"/><circle cx="262.8" cy="723.3" r="3.35"/><circle cx="333.2" cy="721.0" r="3.35"/><circle cx="293.3" cy="722.1" r="3.35"/><circle cx="288.9" cy="723.3" r="3.35"/><circle cx="284.2" cy="724.5" r="3.35"/><circle cx="272.4" cy="726.3" r="3.35"/><circle cx="277.2" cy="728.0" r="3.35"/><circle cx="321.5" cy="727.7" r="3.35"/><circle cx="306.1" cy="730.8" r="3.35"/><circle cx="289.4" cy="732.0" r="3.35"/><circle cx="328.8" cy="733.8" r="3.35"/><circle cx="332.9" cy="732.9" r="3.35"/><circle cx="271.0" cy="735.2" r="3.35"/><circle cx="276.3" cy="739.1" r="3.35"/><circle cx="300.8" cy="737.8" r="3.35"/><circle cx="306.1" cy="737.8" r="3.35"/><circle cx="111.7" cy="732.6" r="3.35"/></g>
<g fill="#000000"><circle cx="416.3" cy="461.7" r="3.35"/><circle cx="410.0" cy="477.7" r="3.35"/><circle cx="411.4" cy="482.4" r="3.35"/><circle cx="409.5" cy="489.6" r="3.35"/><circle cx="408.3" cy="502.5" r="3.35"/><circle cx="405.0" cy="505.7" r="3.35"/><circle cx="411.3" cy="513.9" r="3.35"/><circle cx="415.3" cy="522.0" r="3.35"/><circle cx="402.2" cy="529.0" r="3.35"/><circle cx="407.9" cy="534.3" r="3.35"/><circle cx="410.9" cy="537.4" r="3.35"/><circle cx="409.5" cy="545.6" r="3.35"/><circle cx="414.1" cy="547.7" r="3.35"/><circle cx="407.1" cy="548.6" r="3.35"/><circle cx="410.9" cy="550.4" r="3.35"/><circle cx="414.8" cy="554.4" r="3.35"/><circle cx="406.5" cy="555.6" r="3.35"/><circle cx="443.0" cy="568.8" r="3.35"/><circle cx="401.6" cy="572.3" r="3.35"/><circle cx="416.2" cy="574.0" r="3.35"/><circle cx="397.4" cy="576.7" r="3.35"/><circle cx="418.8" cy="576.7" r="3.35"/><circle cx="433.7" cy="579.9" r="3.35"/><circle cx="407.4" cy="582.2" r="3.35"/><circle cx="412.1" cy="581.1" r="3.35"/><circle cx="429.7" cy="584.3" r="3.35"/><circle cx="417.0" cy="584.3" r="3.35"/><circle cx="400.8" cy="588.7" r="3.35"/><circle cx="443.0" cy="589.9" r="3.35"/><circle cx="418.8" cy="589.5" r="3.35"/><circle cx="424.1" cy="590.9" r="3.35"/><circle cx="426.7" cy="593.9" r="3.35"/><circle cx="394.3" cy="594.4" r="3.35"/><circle cx="413.5" cy="593.9" r="3.35"/><circle cx="407.8" cy="595.7" r="3.35"/><circle cx="411.8" cy="597.4" r="3.35"/><circle cx="417.0" cy="600.0" r="3.35"/><circle cx="419.7" cy="602.7" r="3.35"/><circle cx="424.1" cy="602.3" r="3.35"/><circle cx="409.2" cy="603.5" r="3.35"/><circle cx="412.7" cy="607.0" r="3.35"/><circle cx="398.7" cy="606.5" r="3.35"/><circle cx="407.1" cy="608.8" r="3.35"/><circle cx="415.6" cy="610.9" r="3.35"/><circle cx="412.1" cy="614.9" r="3.35"/><circle cx="394.8" cy="617.2" r="3.35"/><circle cx="405.3" cy="617.6" r="3.35"/><circle cx="421.4" cy="617.0" r="3.35"/><circle cx="389.5" cy="620.5" r="3.35"/><circle cx="417.0" cy="620.2" r="3.35"/><circle cx="421.4" cy="622.8" r="3.35"/><circle cx="407.4" cy="624.6" r="3.35"/><circle cx="411.8" cy="626.3" r="3.35"/><circle cx="417.0" cy="627.2" r="3.35"/><circle cx="427.9" cy="625.8" r="3.35"/><circle cx="433.3" cy="626.3" r="3.35"/><circle cx="408.6" cy="628.9" r="3.35"/><circle cx="416.2" cy="629.5" r="3.35"/><circle cx="397.2" cy="628.1" r="3.35"/><circle cx="401.3" cy="628.9" r="3.35"/><circle cx="403.0" cy="634.2" r="3.35"/><circle cx="399.0" cy="636.0" r="3.35"/><circle cx="423.2" cy="636.3" r="3.35"/><circle cx="392.0" cy="639.5" r="3.35"/><circle cx="389.5" cy="640.3" r="3.35"/><circle cx="431.9" cy="639.5" r="3.35"/><circle cx="446.5" cy="640.3" r="3.35"/><circle cx="406.2" cy="641.2" r="3.35"/><circle cx="445.1" cy="643.8" r="3.35"/><circle cx="429.8" cy="643.8" r="3.35"/><circle cx="398.7" cy="645.6" r="3.35"/><circle cx="411.4" cy="646.5" r="3.35"/><circle cx="429.3" cy="647.3" r="3.35"/><circle cx="403.9" cy="648.2" r="3.35"/><circle cx="421.1" cy="649.6" r="3.35"/><circle cx="412.1" cy="651.2" r="3.35"/><circle cx="446.8" cy="651.7" r="3.35"/><circle cx="450.0" cy="652.9" r="3.35"/><circle cx="403.6" cy="655.2" r="3.35"/><circle cx="442.4" cy="657.9" r="3.35"/><circle cx="445.1" cy="660.1" r="3.35"/><circle cx="418.4" cy="660.1" r="3.35"/><circle cx="429.0" cy="664.3" r="3.35"/><circle cx="437.2" cy="664.9" r="3.35"/><circle cx="420.0" cy="664.9" r="3.35"/><circle cx="405.3" cy="666.3" r="3.35"/><circle cx="389.9" cy="667.8" r="3.35"/><circle cx="420.6" cy="668.4" r="3.35"/><circle cx="437.5" cy="669.6" r="3.35"/><circle cx="411.3" cy="670.1" r="3.35"/><circle cx="424.6" cy="671.3" r="3.35"/><circle cx="430.7" cy="672.2" r="3.35"/><circle cx="450.3" cy="673.3" r="3.35"/><circle cx="463.1" cy="672.4" r="3.35"/><circle cx="418.8" cy="674.5" r="3.35"/><circle cx="405.7" cy="675.9" r="3.35"/><circle cx="430.2" cy="676.2" r="3.35"/><circle cx="415.3" cy="677.1" r="3.35"/><circle cx="417.0" cy="680.6" r="3.35"/><circle cx="422.3" cy="680.6" r="3.35"/><circle cx="436.3" cy="681.5" r="3.35"/><circle cx="439.5" cy="682.0" r="3.35"/><circle cx="402.2" cy="682.7" r="3.35"/><circle cx="410.9" cy="684.1" r="3.35"/><circle cx="417.9" cy="685.0" r="3.35"/><circle cx="422.3" cy="685.9" r="3.35"/><circle cx="396.0" cy="686.8" r="3.35"/><circle cx="401.3" cy="685.9" r="3.35"/><circle cx="427.6" cy="688.2" r="3.35"/><circle cx="436.3" cy="688.5" r="3.35"/><circle cx="441.6" cy="689.9" r="3.35"/><circle cx="446.0" cy="690.8" r="3.35"/><circle cx="454.7" cy="689.9" r="3.35"/><circle cx="430.2" cy="690.3" r="3.35"/><circle cx="413.5" cy="691.1" r="3.35"/><circle cx="417.9" cy="689.4" r="3.35"/><circle cx="393.4" cy="694.1" r="3.35"/><circle cx="400.4" cy="694.6" r="3.35"/><circle cx="435.4" cy="694.6" r="3.35"/><circle cx="451.2" cy="695.5" r="3.35"/><circle cx="409.2" cy="696.4" r="3.35"/><circle cx="421.4" cy="697.3" r="3.35"/><circle cx="424.9" cy="697.3" r="3.35"/><circle cx="401.3" cy="699.9" r="3.35"/><circle cx="418.8" cy="699.9" r="3.35"/><circle cx="427.6" cy="700.8" r="3.35"/><circle cx="440.2" cy="700.2" r="3.35"/><circle cx="443.3" cy="692.0" r="3.35"/><circle cx="448.6" cy="692.0" r="3.35"/><circle cx="423.2" cy="701.1" r="3.35"/><circle cx="427.6" cy="707.8" r="3.35"/><circle cx="431.9" cy="709.5" r="3.35"/><circle cx="435.1" cy="707.8" r="3.35"/><circle cx="396.9" cy="710.4" r="3.35"/><circle cx="464.7" cy="711.8" r="3.35"/><circle cx="412.7" cy="715.7" r="3.35"/><circle cx="406.5" cy="716.5" r="3.35"/><circle cx="420.2" cy="716.2" r="3.35"/><circle cx="438.1" cy="716.0" r="3.35"/><circle cx="447.7" cy="716.2" r="3.35"/><circle cx="422.3" cy="718.3" r="3.35"/><circle cx="403.9" cy="719.2" r="3.35"/><circle cx="445.1" cy="718.3" r="3.35"/><circle cx="453.8" cy="718.6" r="3.35"/><circle cx="402.5" cy="722.1" r="3.35"/><circle cx="428.1" cy="721.8" r="3.35"/><circle cx="433.3" cy="721.3" r="3.35"/><circle cx="435.4" cy="728.3" r="3.35"/><circle cx="459.4" cy="729.7" r="3.35"/><circle cx="401.8" cy="737.0" r="3.35"/></g>
<line x1="112.0" y1="670.8" x2="361.9" y2="649.5" stroke="#000" stroke-width="1.7"/>
<line x1="389.9" y1="594.4" x2="464.6" y2="711.5" stroke="#000" stroke-width="1.7"/>
<rect x="60.0" y="427.1" width="307.6" height="315.1" fill="none" stroke="#3d3d3d" stroke-width="1.3"/>
<rect x="376.2" y="427.1" width="307.9" height="315.1" fill="none" stroke="#3d3d3d" stroke-width="1.3"/>
<line x1="55.5" y1="742.20" x2="60.0" y2="742.20" stroke="#333" stroke-width="1.4"/>
<text x="52.4" y="746.55" font-size="12.3" text-anchor="end" fill="#262626">0.00</text>
<line x1="55.5" y1="663.43" x2="60.0" y2="663.43" stroke="#333" stroke-width="1.4"/>
<text x="52.4" y="667.78" font-size="12.3" text-anchor="end" fill="#262626">0.25</text>
<line x1="55.5" y1="584.65" x2="60.0" y2="584.65" stroke="#333" stroke-width="1.4"/>
<text x="52.4" y="589.00" font-size="12.3" text-anchor="end" fill="#262626">0.50</text>
<line x1="55.5" y1="505.88" x2="60.0" y2="505.88" stroke="#333" stroke-width="1.4"/>
<text x="52.4" y="510.23" font-size="12.3" text-anchor="end" fill="#262626">0.75</text>
<line x1="55.5" y1="427.10" x2="60.0" y2="427.10" stroke="#333" stroke-width="1.4"/>
<text x="52.4" y="431.45" font-size="12.3" text-anchor="end" fill="#262626">1.00</text>
<line x1="60.00" y1="742.2" x2="60.00" y2="746.20" stroke="#333" stroke-width="1.4"/>
<text x="60.00" y="758.60" font-size="12.3" text-anchor="middle" fill="#262626">0.0</text>
<line x1="111.33" y1="742.2" x2="111.33" y2="746.20" stroke="#333" stroke-width="1.4"/>
<text x="111.33" y="758.60" font-size="12.3" text-anchor="middle" fill="#262626">0.1</text>
<line x1="162.66" y1="742.2" x2="162.66" y2="746.20" stroke="#333" stroke-width="1.4"/>
<text x="162.66" y="758.60" font-size="12.3" text-anchor="middle" fill="#262626">0.2</text>
<line x1="213.99" y1="742.2" x2="213.99" y2="746.20" stroke="#333" stroke-width="1.4"/>
<text x="213.99" y="758.60" font-size="12.3" text-anchor="middle" fill="#262626">0.3</text>
<line x1="265.32" y1="742.2" x2="265.32" y2="746.20" stroke="#333" stroke-width="1.4"/>
<text x="265.32" y="758.60" font-size="12.3" text-anchor="middle" fill="#262626">0.4</text>
<line x1="316.65" y1="742.2" x2="316.65" y2="746.20" stroke="#333" stroke-width="1.4"/>
<text x="316.65" y="758.60" font-size="12.3" text-anchor="middle" fill="#262626">0.5</text>
<line x1="376.20" y1="742.2" x2="376.20" y2="746.20" stroke="#333" stroke-width="1.4"/>
<text x="376.20" y="758.60" font-size="12.3" text-anchor="middle" fill="#262626">0.0</text>
<line x1="427.56" y1="742.2" x2="427.56" y2="746.20" stroke="#333" stroke-width="1.4"/>
<text x="427.56" y="758.60" font-size="12.3" text-anchor="middle" fill="#262626">0.1</text>
<line x1="478.92" y1="742.2" x2="478.92" y2="746.20" stroke="#333" stroke-width="1.4"/>
<text x="478.92" y="758.60" font-size="12.3" text-anchor="middle" fill="#262626">0.2</text>
<line x1="530.28" y1="742.2" x2="530.28" y2="746.20" stroke="#333" stroke-width="1.4"/>
<text x="530.28" y="758.60" font-size="12.3" text-anchor="middle" fill="#262626">0.3</text>
<line x1="581.64" y1="742.2" x2="581.64" y2="746.20" stroke="#333" stroke-width="1.4"/>
<text x="581.64" y="758.60" font-size="12.3" text-anchor="middle" fill="#262626">0.4</text>
<line x1="633.00" y1="742.2" x2="633.00" y2="746.20" stroke="#333" stroke-width="1.4"/>
<text x="633.00" y="758.60" font-size="12.3" text-anchor="middle" fill="#262626">0.5</text>
<text x="372.6" y="780.6" font-size="15.5" text-anchor="middle" fill="#000">Pairwise elevation resistance</text>
<text x="348.7" y="450.8" font-size="20.5" font-weight="bold" text-anchor="middle" fill="#000">c</text>
<text x="664.7" y="450.8" font-size="20.5" font-weight="bold" text-anchor="middle" fill="#000">d</text>
<text transform="translate(13.0,315.1) rotate(-90)" font-size="15.45" fill="#000">Pairwise population differentiation /</text>
<text transform="translate(13.0,70.10000000000002) rotate(-90)" font-size="15.45" font-style="italic" fill="#000">F</text>
<text transform="translate(15.5,59.50000000000003) rotate(-90)" font-size="11.7" font-style="italic" fill="#000">s</text>
<text transform="translate(15.5,53.0) rotate(-90)" font-size="11.7" font-style="italic" fill="#000">t</text>
<text transform="translate(13.0,716.8) rotate(-90)" font-size="15.45" fill="#000">Pairwise population differentiation /</text>
<text transform="translate(13.0,471.79999999999995) rotate(-90)" font-size="15.45" font-style="italic" fill="#000">F</text>
<text transform="translate(15.5,461.19999999999993) rotate(-90)" font-size="11.7" font-style="italic" fill="#000">s</text>
<text transform="translate(15.5,454.69999999999993) rotate(-90)" font-size="11.7" font-style="italic" fill="#000">t</text>
</svg>
</body></html>
